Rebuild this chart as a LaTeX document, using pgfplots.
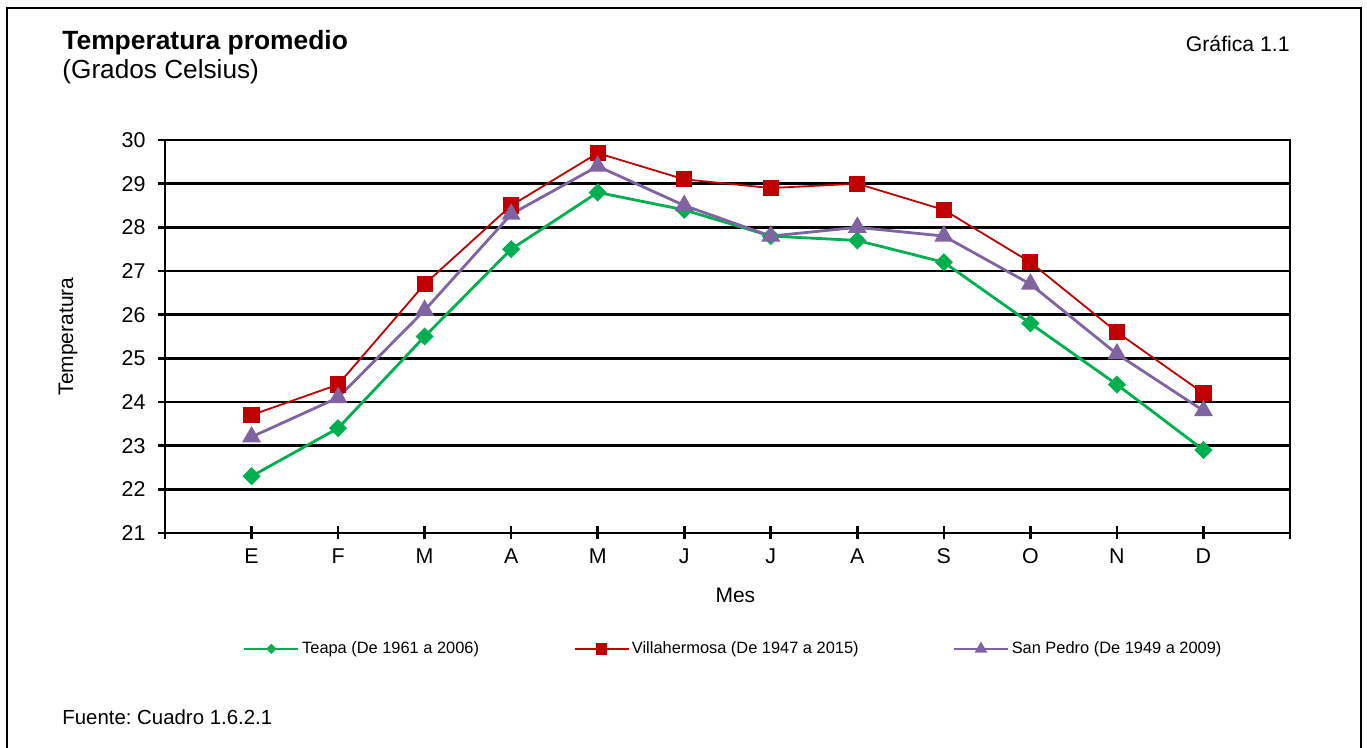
\documentclass[border=0pt]{standalone}
\usepackage{pgfplots}
\pgfplotsset{compat=1.18}
\usepackage{fontspec}
\setmainfont{Liberation Sans}
\definecolor{cgreen}{HTML}{00B050}
\definecolor{cred}{HTML}{C00000}
\definecolor{cpurple}{HTML}{8064A2}
\frenchspacing
\begin{document}
\begin{tikzpicture}[font=\fontsize{10.6}{12.7}\selectfont]
\useasboundingbox (0,0) rectangle (683.5pt,-374pt);
\begin{axis}[
  at={(82.5pt,-266.5pt)}, anchor=south west,
  scale only axis, width=562.5pt, height=196.5pt,
  xmin=-1, xmax=12, ymin=21, ymax=30,
  xtick={-1,0,...,12}, xticklabels={,E,F,M,A,M,J,J,A,S,O,N,D,},
  ytick={21,...,30},
  ymajorgrids, grid style={black, line width=1.35pt},
  axis line style={black, line width=1.4pt},
  tick style={black, line width=1.3pt},
  tick align=center, major tick length=6.5pt,
  tick pos=left,
  /pgf/number format/assume math mode=true,
  tick label style={font=\fontsize{10.7}{12.8}\selectfont},
  yticklabel style={xshift=-3pt},
  xticklabel style={yshift=-1pt},
  xlabel={Mes}, ylabel={Temperatura},
  label style={font=\fontsize{10.5}{12.6}\selectfont},
  xlabel style={at={(axis description cs:0.507,-0.160)}, anchor=center},
  ylabel style={at={(axis description cs:-0.0861,0.5)}, anchor=center},
  legend columns=3,
  legend style={at={(axis description cs:0.0693,-0.295)}, anchor=west,
    draw=none, fill=none, inner sep=0pt, outer sep=0pt,
    font=\fontsize{8.2}{10}\selectfont, nodes={inner sep=0pt},
    /tikz/every odd column/.append style={column sep=1.2pt}},
  legend image code/.code={\draw[mark repeat=2,mark phase=2,#1] plot coordinates {(0pt,0pt) (13.5pt,0pt) (27pt,0pt)};},
]
\addlegendimage{cgreen, line width=1.4pt, mark=square*, mark size=1.1pt, mark options={rotate=45}}
\addlegendentry{\makebox[135.8pt][l]{Teapa (De 1961 a 2006)}}
\addlegendimage{cred, line width=0.9pt, mark=square*, mark size=2.4pt}
\addlegendentry{\makebox[160.3pt][l]{Villahermosa (De 1947 a 2015)}}
\addlegendimage{cpurple, line width=1.4pt, mark=triangle*, mark size=2.3pt}
\addlegendentry{San Pedro (De 1949 a 2009)}

\addplot[forget plot, cgreen, line width=1.4pt, mark=square*, mark size=2.5pt, mark options={rotate=45}] coordinates {
(0,22.3) (1,23.4) (2,25.5) (3,27.5) (4,28.8) (5,28.4) (6,27.8) (7,27.7) (8,27.2) (9,25.8) (10,24.4) (11,22.9)};
\addplot[forget plot, cred, line width=0.9pt, mark=square*, mark size=3.6pt] coordinates {
(0,23.7) (1,24.4) (2,26.7) (3,28.5) (4,29.7) (5,29.1) (6,28.9) (7,29.0) (8,28.4) (9,27.2) (10,25.6) (11,24.2)};
\addplot[forget plot, cpurple, line width=1.4pt, mark=triangle*, mark size=4.1pt] coordinates {
(0,23.2) (1,24.1) (2,26.1) (3,28.3) (4,29.4) (5,28.5) (6,27.8) (7,28.0) (8,27.8) (9,26.7) (10,25.1) (11,23.8)};
\end{axis}
\begin{scope}[x=0.5pt, y=-0.5pt]
\draw[black, line width=1.2pt] (7,760) -- (7,8) -- (1361,8) -- (1361,760);
\node[anchor=base west, inner sep=0pt, font=\fontsize{13.2}{15.8}\selectfont\bfseries] at (62,50) {Temperatura promedio};
\node[anchor=base west, inner sep=0pt, font=\fontsize{13.1}{15.7}\selectfont] at (62,79) {(Grados Celsius)};
\node[anchor=base east, inner sep=0pt] at (1290,52) {Gráfica 1.1};
\node[anchor=base west, inner sep=0pt, font=\fontsize{10.2}{12.2}\selectfont] at (62,725) {Fuente: Cuadro 1.6.2.1};
\end{scope}
\end{tikzpicture}
\end{document}
